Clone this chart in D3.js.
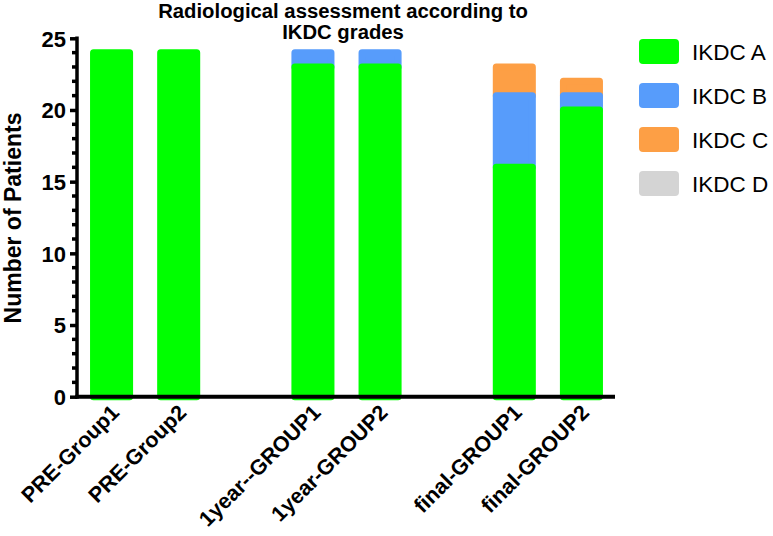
<!DOCTYPE html>
<html>
<head>
<meta charset="utf-8">
<script src="https://cdn.jsdelivr.net/npm/d3@7"></script>
<style>
  html, body { margin: 0; padding: 0; background: #fff; }
  svg { display: block; font-family: "Liberation Sans", Arial, Helvetica, sans-serif; }
</style>
</head>
<body>
<svg id="chart" width="773" height="536"></svg>
<script>
// ---- data ----
const categories = ["PRE-Group1", "PRE-Group2", "1year--GROUP1", "1year-GROUP2", "final-GROUP1", "final-GROUP2"];
const groups = [["PRE-Group1", "PRE-Group2"], ["1year--GROUP1", "1year-GROUP2"], ["final-GROUP1", "final-GROUP2"]];
const seriesNames = ["IKDC A", "IKDC B", "IKDC C", "IKDC D"];
const ikdcA = [24, 24, 23, 23, 16, 20];
const ikdcB = [0, 0, 1, 1, 5, 1];
const ikdcC = [0, 0, 0, 0, 2, 1];
const ikdcD = [0, 0, 0, 0, 0, 0];
const yTicks = [0, 5, 10, 15, 20, 25];
const titleLines = ["Radiological assessment according to", "IKDC grades"];
const yLabel = "Number of Patients";
const colors = ["#00ff00", "#579cfb", "#fd9f45", "#d4d4d4"];

// ---- layout ----
const svg = d3.select("#chart");
const x0 = 78, x1 = 615, yTop = 38.3, yBot = 396.7;

// domain with spacer slots between groups
const domain = [];
groups.forEach((g, i) => { if (i > 0) domain.push("__gap" + i); g.forEach(c => domain.push(c)); });

const x = d3.scaleBand().domain(domain).range([x0, x1]).paddingInner(0.463).paddingOuter(0.2315);
const y = d3.scaleLinear().domain([0, 25]).range([yBot, yTop]);

const table = categories.map((c, i) => ({ cat: c, "IKDC A": ikdcA[i], "IKDC B": ikdcB[i], "IKDC C": ikdcC[i], "IKDC D": ikdcD[i] }));
const stacked = d3.stack().keys(seriesNames)(table);

// bars: draw top series first so lower segments overlap them
const sw = 7;
const barG = svg.append("g");
for (let s = stacked.length - 1; s >= 0; s--) {
  const layer = stacked[s];
  barG.append("g")
    .selectAll("rect")
    .data(layer.filter(d => d[1] - d[0] > 0))
    .join("rect")
    .attr("x", d => x(d.data.cat))
    .attr("width", x.bandwidth())
    .attr("y", d => y(d[1]))
    .attr("height", d => Math.max(0, y(d[0]) - y(d[1])))
    .attr("fill", colors[s])
    .attr("stroke", colors[s])
    .attr("stroke-width", sw)
    .attr("stroke-linejoin", "round");
}

// y axis
const yAxis = d3.axisLeft(y).tickValues(yTicks).tickSize(7).tickPadding(4);
const yG = svg.append("g").attr("transform", `translate(${x0 - 1},0)`).call(yAxis);
yG.select(".domain").remove();
yG.selectAll(".tick line").attr("stroke", "#000").attr("stroke-width", 3.5);
yG.selectAll(".tick text").attr("font-size", 22).attr("font-weight", "bold").attr("fill", "#000").attr("dy", "0.36em");
// minor ticks
const minor = d3.range(0, 26).filter(v => !yTicks.includes(v));
yG.append("g").selectAll("line").data(minor).join("line")
  .attr("x1", -5).attr("x2", 0).attr("y1", d => y(d)).attr("y2", d => y(d))
  .attr("stroke", "#000").attr("stroke-width", 3.5);
yG.append("line").attr("x1", 0).attr("x2", 0).attr("y1", y(25) - 1.75).attr("y2", yBot + 2)
  .attr("stroke", "#000").attr("stroke-width", 3.5);

// x axis
const xAxis = d3.axisBottom(x).tickValues(categories).tickSize(0).tickPadding(0);
const xG = svg.append("g").attr("transform", `translate(0,${yBot})`).call(xAxis);
xG.select(".domain").remove();
xG.append("line").attr("x1", x0 - 2.75).attr("x2", x1).attr("y1", 0).attr("y2", 0)
  .attr("stroke", "#000").attr("stroke-width", 4);
xG.selectAll(".tick text")
  .attr("font-size", 21.5).attr("font-weight", "bold").attr("fill", "#000")
  .attr("text-anchor", "end").attr("dy", null).attr("y", 0)
  .attr("transform", "translate(9,17) rotate(-45)");

// title
const t = svg.append("text").attr("text-anchor", "middle").attr("font-weight", "bold").attr("font-size", 20.3).attr("fill", "#000");
titleLines.forEach((line, i) => t.append("tspan").attr("x", 343).attr("y", 18 + i * 21).text(line));

// y label
svg.append("text").attr("transform", `translate(21,218) rotate(-90)`)
  .attr("text-anchor", "middle").attr("font-weight", "bold").attr("font-size", 23).attr("fill", "#000")
  .text(yLabel);

// legend
const lg = svg.append("g").attr("transform", "translate(639,39)");
const rowH = 44;
seriesNames.forEach((name, i) => {
  const r = lg.append("g").attr("transform", `translate(0,${i * rowH})`);
  r.append("rect").attr("width", 40).attr("height", 25).attr("rx", 4).attr("fill", colors[i]);
  r.append("text").attr("x", 53).attr("y", 12.5).attr("dy", "0.36em")
    .attr("font-size", 22.5).attr("fill", "#000").text(name);
});
</script>
</body>
</html>
